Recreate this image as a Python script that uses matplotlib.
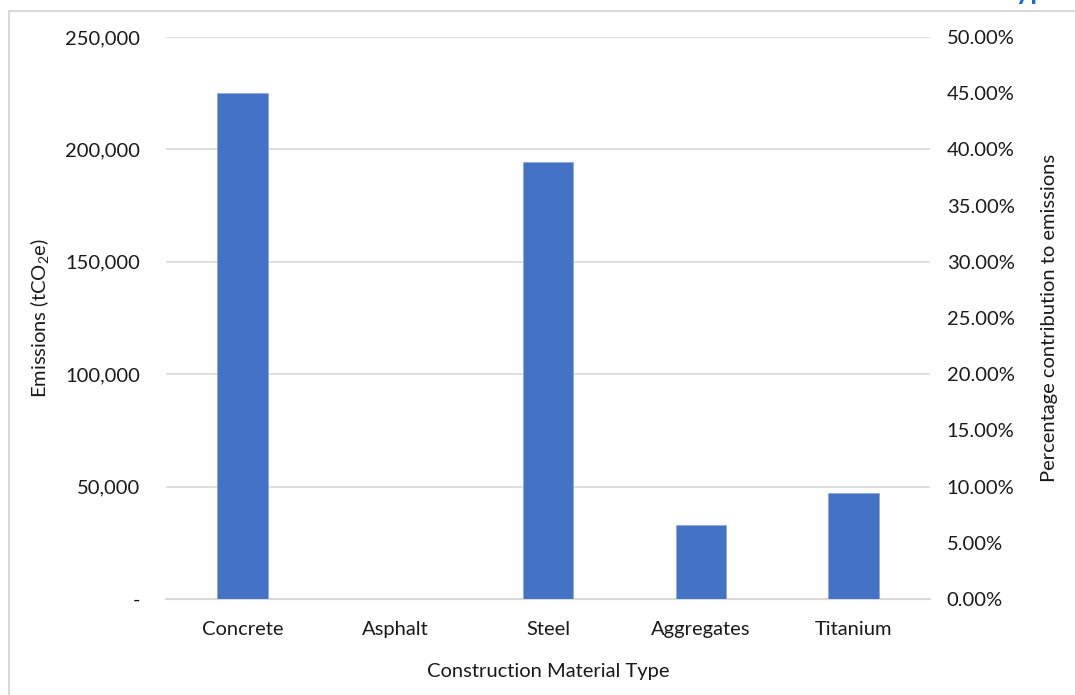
import matplotlib.pyplot as plt
import matplotlib.patches as mpatches
from matplotlib.ticker import FixedLocator, FuncFormatter

plt.rcParams['font.family'] = ['Lato', 'DejaVu Sans']
plt.rcParams['mathtext.fontset'] = 'custom'
plt.rcParams['mathtext.rm'] = 'Lato'
plt.rcParams['mathtext.it'] = 'Lato'

materials = ['Concrete', 'Asphalt', 'Steel', 'Aggregates', 'Titanium']
emissions = [225000, 0, 194500, 33000, 47300]
left_ticks = [0, 50000, 100000, 150000, 200000, 250000]
right_ticks = [0.00, 0.05, 0.10, 0.15, 0.20, 0.25, 0.30, 0.35, 0.40, 0.45, 0.50]

bar_color = '#4472C4'
grid_color = '#d9d9d9'
text_color = '#1a1a1a'
fs = 14.5

fig = plt.figure(figsize=(10.75, 6.95), dpi=100)
ax = fig.add_axes([166 / 1075, 1 - 599 / 695, (930 - 166) / 1075, (599 - 37) / 695])

x = list(range(len(materials)))
ax.bar(x, emissions, width=0.33, color=bar_color, edgecolor='#8faadc', linewidth=0.6, zorder=3)

ax.set_xlim(-0.5, len(materials) - 0.5)
ax.set_ylim(0, 250000)
ax.yaxis.set_major_locator(FixedLocator(left_ticks))
ax.yaxis.set_major_formatter(FuncFormatter(lambda v, p: '-' if v == 0 else f'{v:,.0f}'))
ax.set_xticks(x)
ax.set_xticklabels(materials)
ax.grid(axis='y', color=grid_color, linewidth=1.2, zorder=0)
ax.set_axisbelow(True)
for side in ['top', 'right', 'left']:
    ax.spines[side].set_visible(False)
ax.spines['bottom'].set_color(grid_color)
ax.spines['bottom'].set_linewidth(1.5)
ax.tick_params(axis='both', length=0, labelsize=fs, colors=text_color)
ax.tick_params(axis='y', pad=18.5)
ax.tick_params(axis='x', pad=16)
ax.set_ylabel('Emissions (tCO$_2$e)', fontsize=fs, color=text_color, labelpad=10.5)
ax.set_xlabel('Construction Material Type', fontsize=fs, color=text_color, labelpad=18)

ax2 = ax.twinx()
ax2.set_ylim(0, 0.5)
ax2.yaxis.set_major_locator(FixedLocator(right_ticks))
ax2.yaxis.set_major_formatter(FuncFormatter(lambda v, p: f'{v * 100:.2f}%'))
for side in ['top', 'right', 'left', 'bottom']:
    ax2.spines[side].set_visible(False)
ax2.tick_params(axis='y', length=0, labelsize=fs, colors=text_color, pad=12)
ax2.set_ylabel('Percentage contribution to emissions', fontsize=fs, color=text_color, labelpad=19)

# chart area border
fig.patches.append(mpatches.Rectangle((9 / 1075, -0.1), 1.2, 1 - 11 / 695 + 0.1,
                                      transform=fig.transFigure, fill=False,
                                      edgecolor=grid_color, linewidth=1.5))

# heading above the chart area, mostly outside the canvas
fig.text(1062 / 1075, 1 + 1 / 695, 'Type', ha='right', va='baseline',
         fontsize=20, fontweight='bold', color='#1570d4')

fig.savefig('out.png', dpi=100)
